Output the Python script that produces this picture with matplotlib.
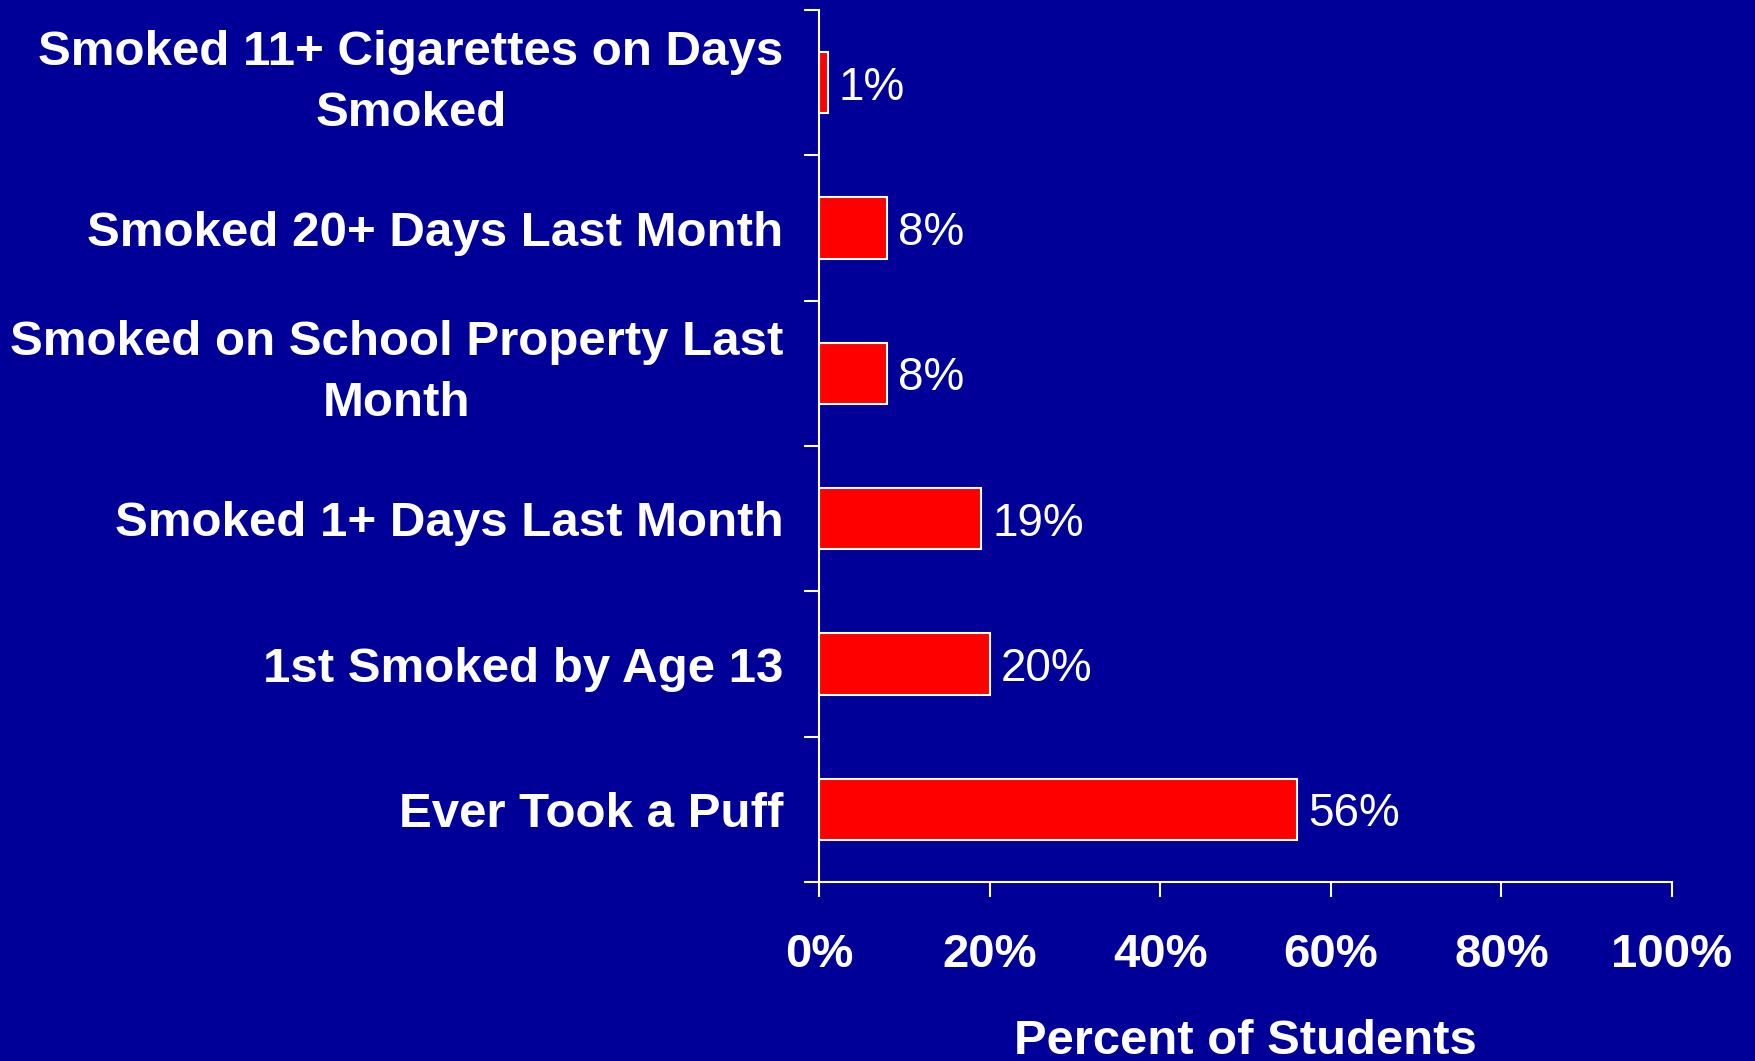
import matplotlib
matplotlib.use('Agg')
import matplotlib.pyplot as plt

categories = ['Ever Took a Puff',
              '1st Smoked by Age 13',
              'Smoked 1+ Days Last Month',
              'Smoked on School Property Last\nMonth',
              'Smoked 20+ Days Last Month',
              'Smoked 11+ Cigarettes on Days\nSmoked']
values = [56, 20, 19, 8, 8, 1]
xticks = [0, 20, 40, 60, 80, 100]
xtick_labels = ['0%', '20%', '40%', '60%', '80%', '100%']

bg = '#000099'
plt.rcParams['font.family'] = ['Liberation Sans', 'DejaVu Sans']

fig = plt.figure(figsize=(17.55, 10.61), dpi=100, facecolor=bg)
ax = fig.add_axes([819/1755, 1-882/1061, (1672-819)/1755, (882-10)/1061])
ax.set_facecolor(bg)

pos = list(range(len(categories)))
bars = ax.barh(pos, values, height=0.42, color='#ff0000', edgecolor='white', linewidth=1.5)

for p, v in zip(pos, values):
    ax.annotate(f'{v}%', xy=(v, p), xytext=(8, 0), textcoords='offset points',
                va='center_baseline', ha='left', color='white', fontsize=33)

ax.set_xlim(0, 100)
ax.set_ylim(-0.5, len(categories) - 0.5)

ax.set_xticks(xticks)
ax.set_xticklabels(xtick_labels, fontsize=34, fontweight='bold', color='white')
ax.tick_params(axis='x', length=11, width=1.5, color='white', pad=26)

# category labels on major ticks (hidden), boundary ticks as minor
ax.set_yticks(pos)
ax.set_yticklabels(categories, fontsize=35.5, fontweight='bold', color='white',
                   linespacing=1.45)
for lab in ax.get_yticklabels():
    lab.set_multialignment('center')
    if '\n' in lab.get_text():
        lab.set_verticalalignment('center')
ax.tick_params(axis='y', which='major', length=0, pad=25.5)
ax.set_yticks([p - 0.5 for p in pos] + [len(categories) - 0.5], minor=True)
ax.tick_params(axis='y', which='minor', length=11, width=1.5, color='white')

for s in ['top', 'right']:
    ax.spines[s].set_visible(False)
for s in ['left', 'bottom']:
    ax.spines[s].set_color('white')
    ax.spines[s].set_linewidth(1.5)

ax.set_xlabel('Percent of Students', fontsize=35.3, fontweight='bold', color='white', labelpad=30)

fig.savefig('out.png', dpi=100, facecolor=bg)
